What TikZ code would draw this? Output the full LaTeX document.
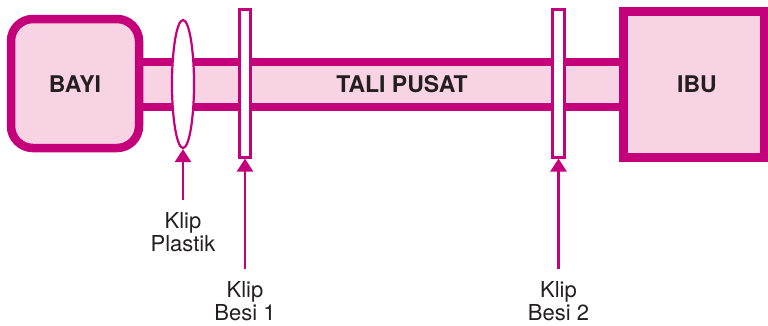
\documentclass[tikz,border=0pt]{standalone}
\usepackage{fontspec}
\setmainfont{TeX Gyre Heros}
\usetikzlibrary{shapes.geometric,arrows.meta}
\definecolor{mag}{HTML}{C4007A}
\definecolor{pinkfill}{HTML}{F8D3E4}
\definecolor{txt}{HTML}{231F20}
\tikzset{
  big/.style={draw=mag, fill=pinkfill, line width=8.5pt, inner sep=0pt},
  clipbox/.style={draw=mag, fill=white, line width=2.2pt, inner sep=0pt},
  arr/.style={draw=mag, line width=2.6pt, -{Triangle[width=16pt,length=13pt]}},
  lbl/.style={font=\fontsize{22}{23.5}\selectfont, text=txt, align=center, inner sep=0pt, anchor=north},
  bold/.style={font=\fontsize{23}{26}\selectfont\bfseries, text=txt, inner sep=0pt}
}
\begin{document}
\begin{tikzpicture}[x=1pt,y=-1pt]
\useasboundingbox (0,0) rectangle (768,325);
% cord
\node[big, minimum width=484.5pt, minimum height=45.5pt, line width=8pt] (cord) at (381.25,84.25) {};
% baby
\node[big, rounded corners=22pt, minimum width=128pt, minimum height=129pt] (bayi) at (75,83.5) {};
\node[bold] (tbayi) at (75,84.5) {BAYI};
% mother
\node[big, minimum width=140.5pt, minimum height=146.5pt, line width=9pt] (ibu) at (693.75,84.25) {};
\node[bold] (tibu) at (697,84.5) {IBU};
\node[bold] (ttali) at (402,84.5) {TALI PUSAT};
% clips
\node[clipbox, ellipse, minimum width=22pt, minimum height=128pt] (plastik) at (183,84) {};
\node[clipbox, rectangle, minimum width=11pt, minimum height=148pt] (besi1) at (245,83.5) {};
\node[clipbox, rectangle, minimum width=12pt, minimum height=148pt] (besi2) at (558.5,83.5) {};
% arrow starts
\coordinate (pA) at (183,200);
\coordinate (pB) at (245,269);
\coordinate (pC) at (558.5,269);
\draw[arr] (pA) -- (plastik.south);
\draw[arr] (pB) -- (besi1.south);
\draw[arr] (pC) -- (besi2.south);
% labels
\node[lbl] (lplastik) at (183,212) {Klip\\Plastik};
\node[lbl] (lbesi1) at (245,281) {Klip\\Besi 1};
\node[lbl] (lbesi2) at (558.5,281) {Klip\\Besi 2};
\end{tikzpicture}
\end{document}
